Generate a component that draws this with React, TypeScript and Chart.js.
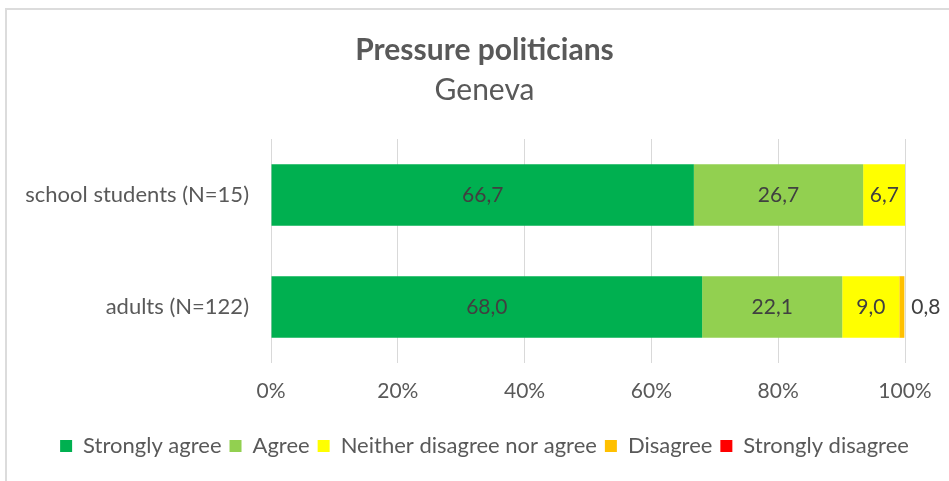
import React, { useEffect, useRef } from "react";
import { Chart, registerables } from "chart.js";

Chart.register(...registerables);

const categories = ["school students (N=15)", "adults (N=122)"];
const seriesNames = ["Strongly agree", "Agree", "Neither disagree nor agree", "Disagree", "Strongly disagree"];
const stronglyAgree = [66.7, 68.0];
const agree = [26.7, 22.1];
const neither = [6.7, 9.0];
const disagree = [0, 0.8];
const stronglyDisagree = [0, 0];
const seriesColors = ["#00B050", "#92D050", "#FFFF00", "#FFC000", "#FF0000"];
const xTickValues = [0, 20, 40, 60, 80, 100];

const FONT = "Lato, 'Open Sans', sans-serif";
const CANVAS_W = 969;
const CANVAS_H = 481;

const fmt = (v: number) => v.toFixed(1).replace(".", ",");

const framePlugin = {
  id: "frame",
  beforeDraw(chart: any) {
    const ctx = chart.ctx;
    ctx.save();
    ctx.fillStyle = "#ffffff";
    ctx.fillRect(0, 0, chart.width, chart.height);
    ctx.strokeStyle = "#dcdcdc";
    ctx.lineWidth = 2;
    ctx.strokeRect(6, 9, 1000, 1000);
    ctx.restore();
  },
};

const labelPlugin = {
  id: "barLabels",
  afterDatasetsDraw(chart: any) {
    const ctx = chart.ctx;
    ctx.save();
    ctx.font = `21px ${FONT}`;
    ctx.fillStyle = "#404040";
    ctx.textBaseline = "middle";
    chart.data.datasets.forEach((ds: any, di: number) => {
      const meta = chart.getDatasetMeta(di);
      meta.data.forEach((bar: any, i: number) => {
        const v = ds.data[i];
        if (!v || v <= 0) return;
        const text = fmt(v);
        const tw = ctx.measureText(text).width;
        const left = Math.min(bar.x, bar.base);
        const right = Math.max(bar.x, bar.base);
        const w = right - left;
        if (tw + 4 > w) {
          ctx.textAlign = "left";
          ctx.fillText(text, right + 7, bar.y);
        } else {
          ctx.textAlign = "center";
          ctx.fillText(text, (left + right) / 2, bar.y);
        }
      });
    });
    ctx.restore();
  },
};

export default function App() {
  const ref = useRef<HTMLCanvasElement | null>(null);

  useEffect(() => {
    if (!ref.current) return;
    const seriesData = [stronglyAgree, agree, neither, disagree, stronglyDisagree];
    const chart = new Chart(ref.current, {
      type: "bar",
      data: {
        labels: categories,
        datasets: seriesNames.map((name, i) => ({
          label: name,
          data: seriesData[i],
          backgroundColor: seriesColors[i],
          borderWidth: 0,
          categoryPercentage: 0.55,
          barPercentage: 1,
        })),
      },
      options: {
        indexAxis: "y",
        responsive: false,
        animation: false,
        layout: { padding: { left: 0, right: 0, top: 0, bottom: 14 } },
        scales: {
          x: {
            stacked: true,
            min: 0,
            max: 100,
            afterBuildTicks: (axis: any) => {
              axis.ticks = xTickValues.map((v) => ({ value: v }));
            },
            ticks: {
              callback: (v: any) => `${v}%`,
              color: "#595959",
              font: { family: FONT, size: 21 },
              padding: 16,
              maxRotation: 0,
            },
            grid: { color: "#d9d9d9", drawTicks: false, lineWidth: 1 },
            border: { display: false },
            afterFit: (scale: any) => {
              scale.height = 64;
            },
          },
          y: {
            stacked: true,
            ticks: {
              color: "#595959",
              font: { family: FONT, size: 22 },
              padding: 22,
            },
            grid: { display: false, drawTicks: false },
            border: { display: false },
            afterFit: (scale: any) => {
              scale.width = 271;
            },
          },
          yRight: {
            type: "category",
            position: "right",
            ticks: { display: false },
            grid: { display: false, drawTicks: false },
            border: { display: false },
            afterFit: (scale: any) => {
              scale.width = CANVAS_W - 905;
            },
          },
        },
        plugins: {
          title: {
            display: true,
            text: "Pressure politicians",
            color: "#595959",
            font: { family: FONT, size: 30, weight: "bold" },
            padding: { top: 32, bottom: 4 },
          },
          subtitle: {
            display: true,
            text: "Geneva",
            color: "#595959",
            font: { family: FONT, size: 30, weight: "normal" },
            padding: { top: 0, bottom: 31 },
          },
          legend: {
            position: "bottom",
            labels: {
              color: "#595959",
              font: { family: FONT, size: 22 },
              boxWidth: 12,
              boxHeight: 12,
              padding: 8,
            },
          },
          tooltip: { enabled: false },
        },
      },
      plugins: [framePlugin, labelPlugin],
    } as any);
    return () => chart.destroy();
  }, []);

  return (
    <div style={{ position: "fixed", left: 0, top: 0, width: 949, height: 481, overflow: "hidden" }}>
      <canvas
        ref={ref}
        width={CANVAS_W}
        height={CANVAS_H}
        style={{ width: CANVAS_W, height: CANVAS_H, display: "block" }}
      />
    </div>
  );
}
